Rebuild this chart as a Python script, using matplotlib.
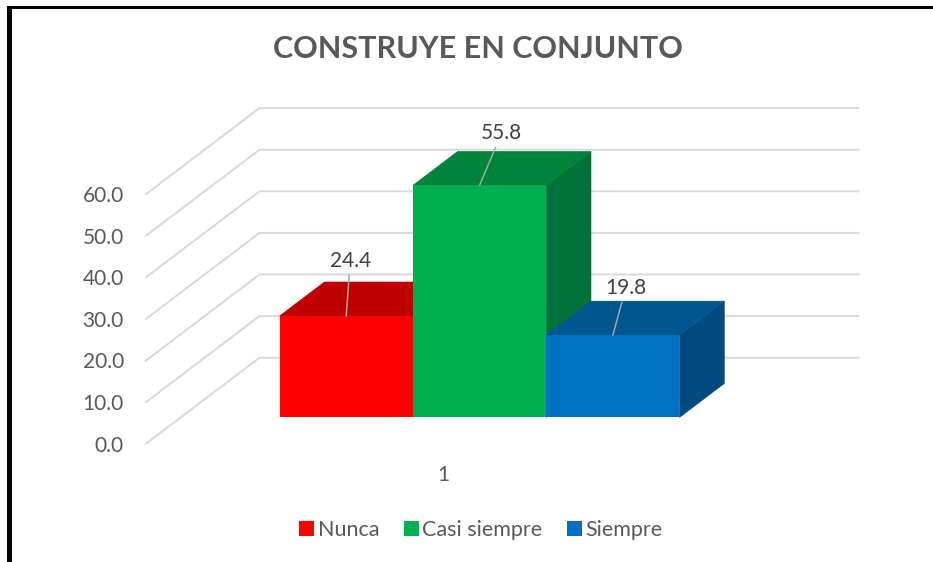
import matplotlib

matplotlib.use("Agg")
import matplotlib.pyplot as plt
from matplotlib.patches import Patch, Rectangle

series = ["Nunca", "Casi siempre", "Siempre"]
values = [24.4, 55.8, 19.8]
face_colors = ["#FF0000", "#00B050", "#0070C0"]
top_colors = ["#C00000", "#00843C", "#005690"]
side_colors = ["#A00000", "#00733A", "#004A80"]
y_ticks = [0, 10, 20, 30, 40, 50, 60]
category_labels = ["1"]
label_offsets_px = [(4, 55), (22, 52), (13, 47)]

TEXT = "#595959"
LABEL = "#404040"
GRID = "#D9D9D9"
W, H = 933, 562

# oblique depth of the fake 3D box, as data units per full depth
DEPTH_X = 113.5 / 599
DEPTH_Y = 86 / (249.6 / 60)
BAR_WIDTH = 133.3 / 599
BAR_FRONT, BAR_BACK = 0.305, 0.70

plt.rcParams["font.family"] = ["Lato", "DejaVu Sans"]


def project(x, value, depth):
    return x + depth * DEPTH_X, value + depth * DEPTH_Y


fig = plt.figure(figsize=(W / 100, H / 100), dpi=100, facecolor="white")
ax = fig.add_axes([146 / W, (H - 443.7) / H, 599 / W, 249.6 / H])
ax.set_xlim(0, 1)
ax.set_ylim(0, 60)
ax.patch.set_visible(False)
for spine in ax.spines.values():
    spine.set_visible(False)

for tick in y_ticks:
    corners = [project(0, tick, 0), project(0, tick, 1), project(1, tick, 1)]
    ax.plot(*zip(*corners), color=GRID, lw=1.4, clip_on=False, zorder=1)

left = 0.499 - BAR_WIDTH * len(values) / 2
for i, value in enumerate(values):
    x0 = left + i * BAR_WIDTH
    x1 = x0 + BAR_WIDTH
    top = [
        project(x0, value, BAR_FRONT),
        project(x1, value, BAR_FRONT),
        project(x1, value, BAR_BACK),
        project(x0, value, BAR_BACK),
    ]
    side = [
        project(x1, 0, BAR_FRONT),
        project(x1, 0, BAR_BACK),
        project(x1, value, BAR_BACK),
        project(x1, value, BAR_FRONT),
    ]
    z = 2 + i
    ax.fill(*zip(*side), color=side_colors[i], lw=0.4, clip_on=False, zorder=z)
    ax.fill(*zip(*top), color=top_colors[i], lw=0.4, clip_on=False, zorder=z)
    fx, fy = project(x0, 0, BAR_FRONT)
    ax.bar(fx, value, width=BAR_WIDTH, bottom=fy, align="edge",
           color=face_colors[i], lw=0, clip_on=False, zorder=z + 0.5)

    # leader lines run from the front top edge up to the label
    dx, dy = label_offsets_px[i]
    ax.annotate(
        f"{value:.1f}",
        xy=project((x0 + x1) / 2, value, BAR_FRONT),
        xytext=(dx * 0.72, dy * 0.72),
        textcoords="offset points",
        ha="center",
        va="center",
        fontsize=15,
        color=LABEL,
        annotation_clip=False,
        zorder=10,
        arrowprops=dict(arrowstyle="-", color="#A6A6A6", lw=1.1, shrinkA=1, shrinkB=0),
    )

ax.set_yticks(y_ticks, [f"{t:.1f}" for t in y_ticks])
ax.set_xticks([0.496], category_labels)
ax.tick_params(axis="y", length=0, pad=16, labelsize=15, labelcolor=TEXT)
ax.tick_params(axis="x", length=0, pad=15, labelsize=15, labelcolor=TEXT)

fig.text(477.5 / W, 1 - 49 / H, "CONSTRUYE EN CONJUNTO", ha="center", va="center",
         fontsize=22, fontweight="bold", color=TEXT)

handles = [Patch(facecolor=c, edgecolor="none") for c in face_colors]
fig.legend(
    handles,
    series,
    loc="center",
    bbox_to_anchor=(481 / W, 1 - 530 / H),
    ncols=3,
    frameon=False,
    fontsize=15.5,
    labelcolor=TEXT,
    handlelength=0.7,
    handleheight=0.7,
    handletextpad=0.15,
    columnspacing=1.15,
)

# black frame that is part of the source image
fig.add_artist(Rectangle((7 / W, 0), 5 / W, 1 - 6 / H, transform=fig.transFigure, color="black", lw=0))
fig.add_artist(Rectangle((7 / W, 1 - 8.5 / H), 1 - 7 / W, 2.5 / H, transform=fig.transFigure, color="black", lw=0))

fig.savefig("out.png", dpi=100)
plt.close(fig)
